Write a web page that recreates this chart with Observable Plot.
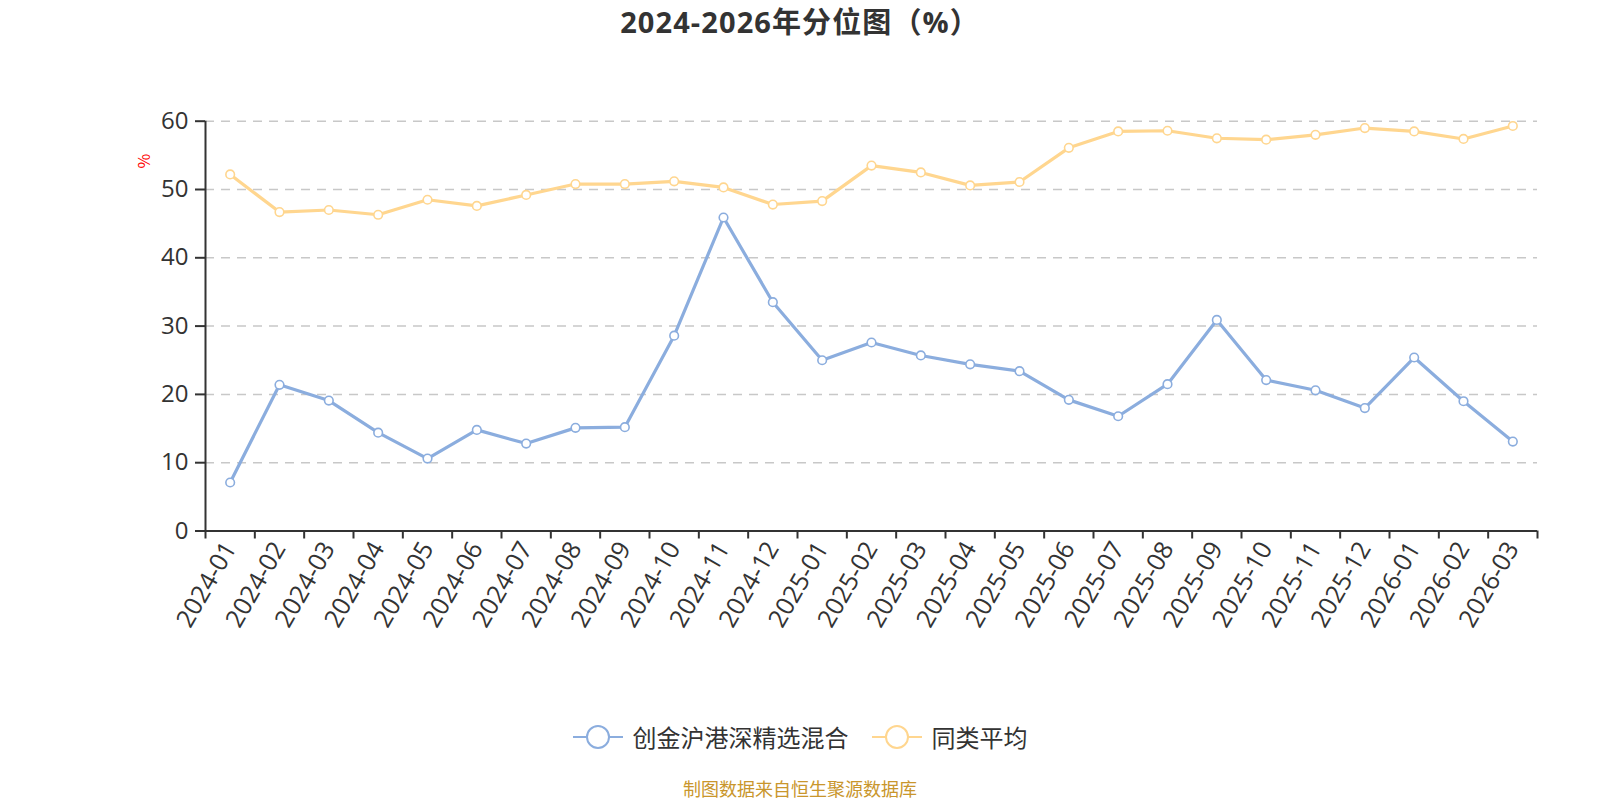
<!DOCTYPE html>
<html>
<head>
<meta charset="utf-8">
<script src="https://cdn.jsdelivr.net/npm/d3@7"></script>
<script src="https://cdn.jsdelivr.net/npm/@observablehq/plot@0.6"></script>
<style>
html,body{margin:0;padding:0;background:#fff;}
#wrap{position:relative;width:1600px;height:800px;font-family:"Noto Sans CJK SC","Noto Sans",sans-serif;}
#title{position:absolute;top:7px;left:0;width:1600px;text-align:center;font-family:"Open Sans","Noto Sans CJK SC",sans-serif;font-size:29px;line-height:29px;font-weight:bold;letter-spacing:1.1px;color:#333;}
#chart{position:absolute;left:0;top:0;}
#ylabel{position:absolute;left:135px;top:152px;width:16px;height:18px;line-height:18px;font-size:16px;color:#ff0000;text-align:center;transform:rotate(-90deg);}
#legend{position:absolute;top:724px;left:0;width:1600px;display:flex;justify-content:center;align-items:center;font-size:24px;line-height:26px;color:#333;}
#legend .item{display:flex;align-items:center;}
#legend .item svg{margin-right:10px;}
#legend .item + .item{margin-left:23px;}
#caption{position:absolute;top:777px;left:0;width:1600px;text-align:center;font-size:18px;line-height:22px;color:#c9962c;}
</style>
</head>
<body>
<div id="wrap">
  <div id="chart"></div>
  <div id="title">2024-2026年分位图（%）</div>
  <div id="ylabel">%</div>
  <div id="legend"></div>
  <div id="caption">制图数据来自恒生聚源数据库</div>
</div>
<script>
const categories = ["2024-01","2024-02","2024-03","2024-04","2024-05","2024-06","2024-07","2024-08","2024-09","2024-10","2024-11","2024-12","2025-01","2025-02","2025-03","2025-04","2025-05","2025-06","2025-07","2025-08","2025-09","2025-10","2025-11","2025-12","2026-01","2026-02","2026-03"];
const fundValues = [7.1,21.4,19.1,14.4,10.6,14.8,12.8,15.1,15.2,28.6,45.9,33.5,25.0,27.6,25.7,24.4,23.4,19.2,16.8,21.5,30.9,22.1,20.6,18.0,25.4,19.0,13.1];
const avgValues = [52.2,46.7,47.0,46.3,48.5,47.6,49.2,50.8,50.8,51.2,50.3,47.8,48.3,53.5,52.5,50.6,51.1,56.1,58.5,58.6,57.5,57.3,58.0,59.0,58.5,57.4,59.3];
const seriesNames = ["创金沪港深精选混合","同类平均"];
const seriesColors = ["#8badde","#ffd68f"];
const yTicks = [0,10,20,30,40,50,60];

const idx = categories.map((c,i)=>i);
const font = '"Open Sans","Noto Sans CJK SC",sans-serif';

const chart = Plot.plot({
  width:1600, height:660,
  marginLeft:205, marginRight:63, marginTop:120.7, marginBottom:129.5,
  x:{domain:[0,categories.length]},
  y:{domain:[0,60]},
  style:{fontFamily:font, fontSize:"24px", color:"#333", background:"transparent"},
  marks:[
    Plot.gridY(yTicks.filter(v=>v>0),{stroke:"#c8c8c8",strokeOpacity:1,strokeWidth:1.5,strokeDasharray:"9,7"}),
    Plot.axisY({ticks:yTicks, tickSize:10, tickPadding:7, label:null, strokeWidth:2, fontSize:24}),
    Plot.axisX({ticks:d3.range(categories.length+1), tickSize:8, tickFormat:()=> "", label:null, strokeWidth:2}),
    Plot.axisX({ticks:idx.map(i=>i+0.5), tickSize:0, tickPadding:13, tickRotate:-60, tickFormat:v=>categories[Math.floor(v)], label:null, fontSize:25}),
    Plot.ruleX([0],{stroke:"#333",strokeWidth:2}),
    Plot.ruleY([0],{stroke:"#333",strokeWidth:2}),
    Plot.line(idx,{x:i=>i+0.5,y:i=>fundValues[i],stroke:seriesColors[0],strokeWidth:3.2}),
    Plot.line(idx,{x:i=>i+0.5,y:i=>avgValues[i],stroke:seriesColors[1],strokeWidth:3.2}),
    Plot.dot(idx,{x:i=>i+0.5,y:i=>fundValues[i],r:4.3,fill:"white",stroke:seriesColors[0],strokeWidth:1.6}),
    Plot.dot(idx,{x:i=>i+0.5,y:i=>avgValues[i],r:4.3,fill:"white",stroke:seriesColors[1],strokeWidth:1.6})
  ]
});
document.getElementById("chart").appendChild(chart);

const legend = document.getElementById("legend");
seriesNames.forEach((name,k)=>{
  const item = document.createElement("div");
  item.className = "item";
  item.innerHTML = `<svg width="50" height="26" viewBox="0 0 50 26"><line x1="0" y1="13" x2="50" y2="13" stroke="${seriesColors[k]}" stroke-width="2"/><circle cx="25" cy="13" r="11" fill="white" stroke="${seriesColors[k]}" stroke-width="2"/></svg><span>${name}</span>`;
  legend.appendChild(item);
});
</script>
</body>
</html>
